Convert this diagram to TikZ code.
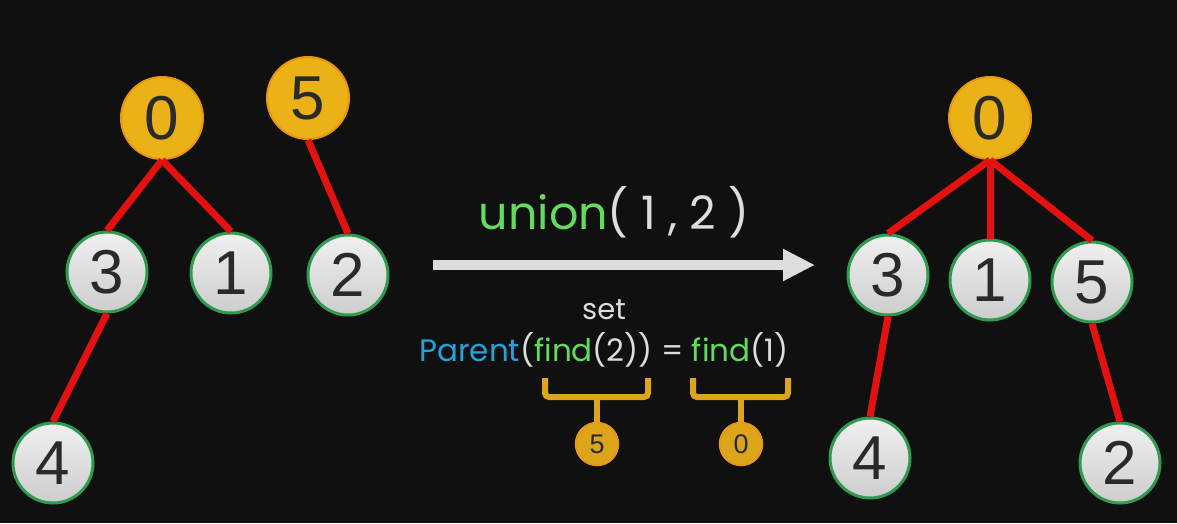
\documentclass[tikz,border=0pt]{standalone}
\usepackage{fontspec}
\setmainfont{Liberation Sans}
\newfontfamily\codefont{Poppins}
\usetikzlibrary{arrows.meta}

\definecolor{bg}{HTML}{101010}
\definecolor{rootfill}{HTML}{EBB217}
\definecolor{rootedge}{HTML}{E8950F}
\definecolor{leaftop}{HTML}{F0F0F0}
\definecolor{leafbot}{HTML}{CDCDCD}
\definecolor{leafedge}{HTML}{2E9B4F}
\definecolor{linkred}{HTML}{E3110F}
\definecolor{digit}{HTML}{2A2A2A}
\definecolor{codegreen}{HTML}{62DC5E}
\definecolor{codeblue}{HTML}{21A3DB}
\definecolor{codegray}{HTML}{DDDDDD}
\definecolor{bracegold}{HTML}{DDA51C}

\begin{document}
\begin{tikzpicture}[x=1pt,y=-1pt]
        \tikzset{
    root/.style={circle, draw=rootedge, line width=2pt, fill=rootfill, minimum size=82pt, inner sep=0pt, text=digit, font=\fontsize{62}{62}\selectfont},
    leaf/.style={circle, draw=leafedge, line width=3pt, top color=leaftop, bottom color=leafbot, minimum size=80pt, inner sep=0pt, text=digit, font=\fontsize{62}{62}\selectfont},
    tag/.style={circle, draw=rootedge, line width=1.5pt, fill=bracegold, minimum size=43pt, inner sep=0pt, text=digit, font=\fontsize{27}{27}\selectfont},
    link/.style={draw=linkred, line width=7pt},
    brace/.style={draw=bracegold, line width=6pt, rounded corners=4pt},
    code/.style={text=codegray, inner sep=0pt, font=\codefont},
        }
        \fill[bg] (0,0) rectangle (1177,523);
        \useasboundingbox (0,0) rectangle (1177,523);

        % Left forest: two trees before the union.
        \path (162,118) node[root] (l0) {0};
        \path (308,98)  node[root] (l5) {5};
        \path (107,272) node[leaf] (l3) {3};
        \path (231,273) node[leaf] (l1) {1};
        \path (348,275) node[leaf] (l2) {2};
        \path (53,463)  node[leaf] (l4) {4};

        \draw[link] (l0.south) -- (l3.north);
        \draw[link] (l0.south) -- (l1.north);
        \draw[link] (l5.south) -- (l2.north);
        \draw[link] (l3.south) -- (l4.north);

        % Right tree: after the union.
        \path (990,118)  node[root] (r0) {0};
        \path (888,275)  node[leaf] (r3) {3};
        \path (990,280)  node[leaf] (r1) {1};
        \path (1092,282) node[leaf] (r5) {5};
        \path (870,458)  node[leaf] (r4) {4};
        \path (1120,463) node[leaf] (r2) {2};

        \draw[link] (r0.south) -- (r3.north);
        \draw[link] (r0.south) -- (r1.north);
        \draw[link] (r0.south) -- (r5.north);
        \draw[link] (r3.south) -- (r4.north);
        \draw[link] (r5.south) -- (r2.north);

        % The operation and the arrow.
        \coordinate (as) at (433,265);
        \coordinate (ae) at (815,265);
        \draw[codegray, line width=10pt, -{Triangle[length=32pt,width=30pt]}] (as) -- (ae);
        \path (614,212) node[code, font=\codefont\fontsize{46}{46}\selectfont] (op)
          {\textcolor{codegreen}{union}( 1 , 2 )};

        % What union does.
        \path (604,310) node[code, font=\codefont\fontsize{29}{29}\selectfont] (setw) {set};
        \path (604,350) node[code, font=\codefont\fontsize{31}{31}\selectfont] (expr)
          {\textcolor{codeblue}{Parent}(\textcolor{codegreen}{find}(2)) = \textcolor{codegreen}{find}(1)};

        % Braces under the two finds, with their results.
        \path (597,444) node[tag] (t5) {5};
        \path (741,444) node[tag] (t0) {0};
        \coordinate (b5) at (597,397);
        \coordinate (b0) at (741,397);
        \draw[brace] (545,378) -- (545,397) -- (648,397) -- (648,378);
        \draw[brace] (693,378) -- (693,397) -- (788,397) -- (788,378);
        \draw[brace] (b5) -- (t5.north);
        \draw[brace] (b0) -- (t0.north);
      \end{tikzpicture}
\end{document}
